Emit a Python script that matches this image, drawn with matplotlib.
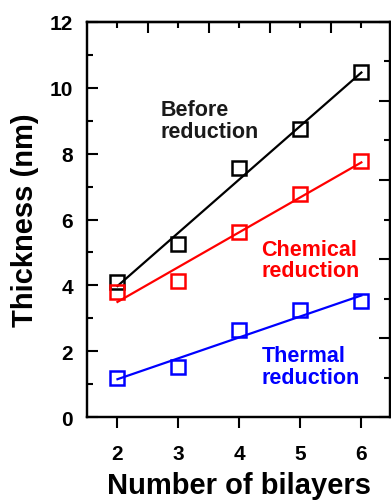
import numpy as np
import matplotlib
matplotlib.use("Agg")
import matplotlib.pyplot as plt
from matplotlib.ticker import MultipleLocator, FixedLocator, NullFormatter

plt.rcParams['font.family'] = ['Liberation Sans', 'DejaVu Sans']
plt.rcParams['font.weight'] = 'bold'

# Film thickness vs. number of bilayers
bilayers = [2, 3, 4, 5, 6]
before = [4.10, 5.26, 7.55, 8.73, 10.46]
chemical = [3.80, 4.13, 5.61, 6.77, 7.77]
thermal = [1.20, 1.53, 2.64, 3.24, 3.52]

series = [
    (before, 'black', "Before\nreduction", (2.70, 9.0), '#1a1a1a'),
    (chemical, 'red', "Chemical\nreduction", (4.36, 4.77), 'red'),
    (thermal, 'blue', "Thermal\nreduction", (4.36, 1.53), 'blue'),
]

fig = plt.figure(figsize=(3.91, 5.02), dpi=100)
ax = fig.add_axes([0.2225, 0.1667, 0.775, 0.7881])

x = np.array(bilayers)
for ys, color, label, pos, tcolor in series:
    # linear fit through the measured points
    slope, icpt = np.polyfit(x, ys, 1)
    ax.plot(x, slope * x + icpt, color=color, lw=1.6, zorder=2)
    ax.plot(x, ys, 's', mfc='none', mec=color, mew=1.8, ms=10, zorder=3)
    ax.text(pos[0], pos[1], label, color=tcolor, fontsize=15.5, fontweight='bold',
            ha='left', va='center', linespacing=1.05)

ax.set_xlim(1.5, 6.47)
ax.set_ylim(0, 12)

ax.xaxis.set_major_locator(FixedLocator(bilayers))
ax.yaxis.set_major_locator(MultipleLocator(2))
ax.yaxis.set_minor_locator(MultipleLocator(1))
ax.tick_params(axis='x', which='major', direction='out', length=8, width=1.5,
               labelsize=15, pad=11)
ax.tick_params(axis='y', which='major', direction='in', length=8, width=1.5,
               labelsize=15, pad=10)
ax.tick_params(axis='y', which='minor', direction='in', length=4.5, width=1.5)
for lbl in ax.get_xticklabels() + ax.get_yticklabels():
    lbl.set_fontweight('bold')

for sp in ax.spines.values():
    sp.set_linewidth(1.6)

# top axis: ticks only
top = ax.secondary_xaxis('top')
top.xaxis.set_major_locator(FixedLocator([2.5, 3.5, 4.5, 5.5]))
top.xaxis.set_minor_locator(FixedLocator(bilayers))
top.xaxis.set_major_formatter(NullFormatter())
top.tick_params(which='major', direction='in', length=8, width=1.5)
top.tick_params(which='minor', direction='in', length=4.5, width=1.5)
top.spines['top'].set_linewidth(1.6)

# right axis: ticks only
right = ax.twinx()
right.set_ylim(0, 5)
right.yaxis.set_major_locator(MultipleLocator(1))
right.yaxis.set_minor_locator(MultipleLocator(0.5))
right.yaxis.set_major_formatter(NullFormatter())
right.tick_params(which='major', direction='in', length=8, width=1.5)
right.tick_params(which='minor', direction='in', length=4.5, width=1.5)
for sp in right.spines.values():
    sp.set_linewidth(1.6)

ax.set_xlabel("Number of bilayers", fontsize=21, fontweight='bold', labelpad=6)
ax.set_ylabel("Thickness (nm)", fontsize=21, fontweight='bold', labelpad=8)

fig.savefig("out.png", dpi=100)
